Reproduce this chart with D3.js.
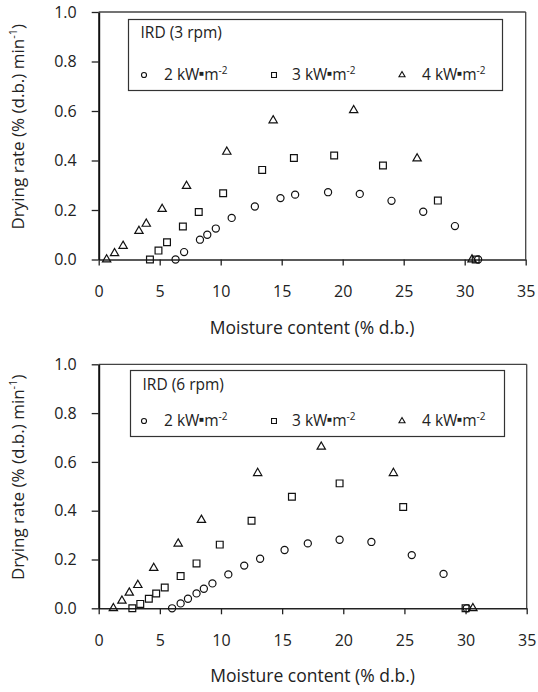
<!DOCTYPE html>
<html>
<head>
<meta charset="utf-8">
<script src="https://cdn.jsdelivr.net/npm/d3@7"></script>
<style>
  body { margin: 0; background: #fff; }
  svg { display: block; font-family: "Open Sans", "Noto Sans", sans-serif; }
</style>
</head>
<body>
<svg id="chart" width="538" height="692"></svg>
<script>
// ---- data (moisture content % d.b., drying rate % d.b./min) ----
const xTicks = [0, 5, 10, 15, 20, 25, 30, 35];
const yTicks = [0.0, 0.2, 0.4, 0.6, 0.8, 1.0];
const legendLabels = ['2', '3', '4'];

// IRD 3 rpm
const rpm3_2kw_x = [6.3, 7.0, 8.3, 8.9, 9.6, 10.9, 12.8, 14.9, 16.1, 18.8, 21.4, 24.0, 26.6, 29.2, 31.1];
const rpm3_2kw_y = [0.0, 0.03, 0.08, 0.10, 0.125, 0.168, 0.214, 0.248, 0.262, 0.272, 0.265, 0.237, 0.193, 0.135, 0.0];
const rpm3_3kw_x = [4.2, 4.9, 5.6, 6.9, 8.2, 10.2, 13.4, 16.0, 19.3, 23.3, 27.8, 30.9];
const rpm3_3kw_y = [0.0, 0.036, 0.07, 0.133, 0.192, 0.268, 0.362, 0.41, 0.42, 0.38, 0.238, 0.0];
const rpm3_4kw_x = [0.65, 1.3, 2.0, 3.3, 3.9, 5.2, 7.2, 10.5, 14.3, 20.9, 26.1, 30.6];
const rpm3_4kw_y = [0.0, 0.025, 0.055, 0.115, 0.144, 0.204, 0.297, 0.435, 0.562, 0.603, 0.408, 0.0];

// IRD 6 rpm
const rpm6_2kw_x = [6.0, 6.7, 7.3, 8.0, 8.6, 9.3, 10.6, 11.9, 13.2, 15.2, 17.1, 19.7, 22.3, 25.6, 28.2, 30.1];
const rpm6_2kw_y = [0.0, 0.02, 0.039, 0.061, 0.08, 0.102, 0.139, 0.175, 0.203, 0.239, 0.266, 0.281, 0.272, 0.218, 0.141, 0.0];
const rpm6_3kw_x = [2.75, 3.4, 4.1, 4.7, 5.4, 6.7, 8.0, 9.9, 12.5, 15.8, 19.7, 24.9, 30.0];
const rpm6_3kw_y = [0.0, 0.018, 0.039, 0.061, 0.085, 0.132, 0.184, 0.261, 0.359, 0.457, 0.512, 0.415, 0.0];
const rpm6_4kw_x = [1.2, 1.9, 2.5, 3.2, 4.5, 6.5, 8.4, 13.0, 18.2, 24.1, 30.6];
const rpm6_4kw_y = [0.0, 0.031, 0.064, 0.095, 0.165, 0.265, 0.362, 0.554, 0.662, 0.554, 0.0];

const zip = (xs, ys) => xs.map((x, i) => ({ x, y: ys[i] }));

const panels = [
  {
    title: 'IRD (3 rpm)',
    top: 12, bottom: 259.5, left: 98.7, right: 525.7,
    legend: { x: 128.5, y: 19.5, w: 374, h: 71, titleY: 38, rowY: 80 },
    series: [zip(rpm3_2kw_x, rpm3_2kw_y), zip(rpm3_3kw_x, rpm3_3kw_y), zip(rpm3_4kw_x, rpm3_4kw_y)]
  },
  {
    title: 'IRD (6 rpm)',
    top: 364.3, bottom: 608.3, left: 98.7, right: 526.7,
    legend: { x: 130.5, y: 370.5, w: 374, h: 66, titleY: 390, rowY: 426 },
    series: [zip(rpm6_2kw_x, rpm6_2kw_y), zip(rpm6_3kw_x, rpm6_3kw_y), zip(rpm6_4kw_x, rpm6_4kw_y)]
  }
];

const symbols = [d3.symbolCircle, d3.symbolSquare, d3.symbolTriangle];
const markerSize = [40, 46, 30];
const legendSize = [20, 24, 16];
const legendMarkX = [144, 274, 402];
const legendTextX = [164, 292, 422];

const svg = d3.select('#chart');

panels.forEach(p => {
  const g = svg.append('g');

  const x = d3.scaleLinear().domain([0, 35]).range([p.left, p.right]);
  const y = d3.scaleLinear().domain([0, 1]).range([p.bottom, p.top]);

  // frame (top + right)
  g.append('line')
    .attr('x1', p.left).attr('x2', p.right)
    .attr('y1', p.top).attr('y2', p.top)
    .attr('stroke', '#444').attr('stroke-width', 1.3);
  g.append('line')
    .attr('x1', p.right).attr('x2', p.right)
    .attr('y1', p.top).attr('y2', p.bottom)
    .attr('stroke', '#444').attr('stroke-width', 1.3);

  // x axis
  const xAxis = g.append('g')
    .attr('transform', `translate(0,${p.bottom})`)
    .call(d3.axisBottom(x).tickValues(xTicks).tickSize(6).tickSizeOuter(0).tickPadding(20));
  xAxis.select('.domain').attr('stroke', '#222').attr('stroke-width', 1.5);
  xAxis.selectAll('.tick line').attr('stroke', '#222').attr('stroke-width', 1.3);
  xAxis.selectAll('.tick text')
    .attr('font-size', 16).attr('fill', '#222')
    .attr('font-family', '"Open Sans", sans-serif');

  // y axis
  const yAxis = g.append('g')
    .attr('transform', `translate(${p.left},0)`)
    .call(d3.axisLeft(y).tickValues(yTicks).tickFormat(d3.format('.1f')).tickSize(7).tickSizeOuter(0).tickPadding(15));
  yAxis.select('.domain').attr('stroke', '#111').attr('stroke-width', 2);
  yAxis.selectAll('.tick line').attr('stroke', '#222').attr('stroke-width', 1.3);
  yAxis.selectAll('.tick text')
    .attr('font-size', 16).attr('fill', '#222')
    .attr('font-family', '"Open Sans", sans-serif');

  // axis titles
  g.append('text')
    .attr('x', (p.left + p.right) / 2)
    .attr('y', p.bottom + 74)
    .attr('text-anchor', 'middle')
    .attr('font-size', 17.5).attr('fill', '#222')
    .text('Moisture content (% d.b.)');

  const yt = g.append('text')
    .attr('transform', `translate(24,${(p.top + p.bottom) / 2 - 9}) rotate(-90)`)
    .attr('text-anchor', 'middle')
    .attr('font-size', 17).attr('fill', '#222');
  yt.append('tspan').text('Drying rate (% (d.b.) min');
  yt.append('tspan').attr('font-size', 11).attr('dy', -7).text('-1');
  yt.append('tspan').attr('dy', 7).text(')');

  // data markers
  p.series.forEach((s, i) => {
    g.selectAll(null)
      .data(s)
      .enter()
      .append('path')
      .attr('d', d3.symbol().type(symbols[i]).size(markerSize[i]))
      .attr('transform', d => `translate(${x(d.x)},${y(d.y)})`)
      .attr('fill', 'none')
      .attr('stroke', '#111')
      .attr('stroke-width', 1.2);
  });

  // legend
  const L = p.legend;
  g.append('rect')
    .attr('x', L.x).attr('y', L.y).attr('width', L.w).attr('height', L.h)
    .attr('fill', '#fff').attr('stroke', '#333').attr('stroke-width', 1.2);
  g.append('text')
    .attr('x', L.x + 12).attr('y', L.titleY)
    .attr('font-size', 15.5).attr('fill', '#222')
    .text(p.title);

  legendLabels.forEach((lab, i) => {
    g.append('path')
      .attr('d', d3.symbol().type(symbols[i]).size(legendSize[i]))
      .attr('transform', `translate(${legendMarkX[i]},${L.rowY - 5})`)
      .attr('fill', 'none').attr('stroke', '#111').attr('stroke-width', 1.1);
    const t = g.append('text')
      .attr('x', legendTextX[i]).attr('y', L.rowY)
      .attr('font-size', 15.5).attr('fill', '#222');
    t.append('tspan').text(lab + ' kW');
    t.append('tspan').attr('font-size', 8).attr('dy', -4).text('\u25A0');
    t.append('tspan').attr('dy', 4).text('m');
    t.append('tspan').attr('font-size', 10).attr('dy', -6).text('-2');
  });
});
</script>
</body>
</html>
